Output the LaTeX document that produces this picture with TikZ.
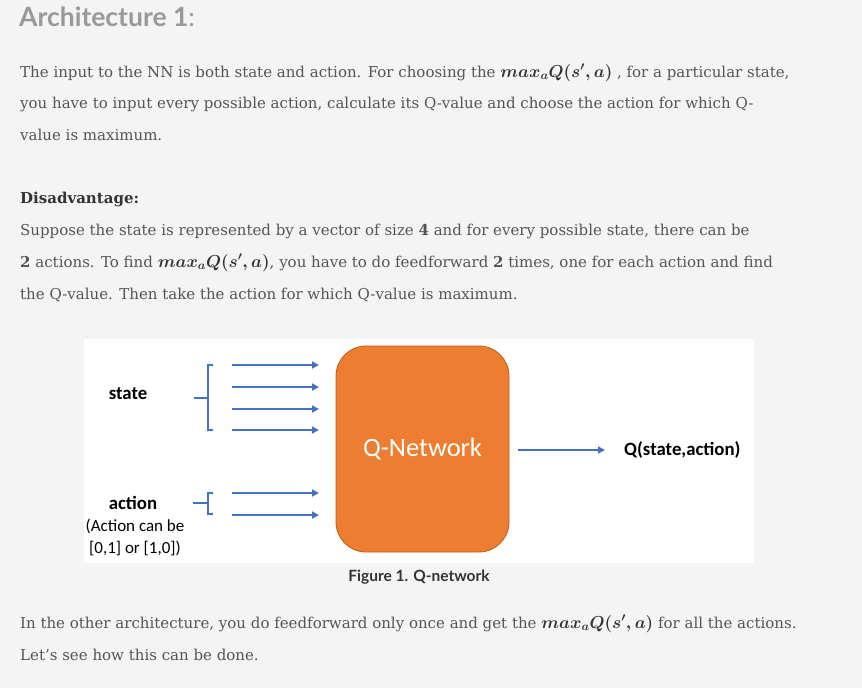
\documentclass[tikz,border=0pt]{standalone}
\usepackage{amsmath,amssymb}
\usepackage[no-math]{fontspec}
\setmainfont{DejaVu Serif}
\newfontfamily\lato{Lato}
\newfontfamily\calib{Carlito}
\usetikzlibrary{arrows.meta}
\definecolor{bgc}{HTML}{F4F4F4}
\definecolor{txt}{HTML}{555555}
\definecolor{ttl}{HTML}{999999}
\definecolor{mth}{HTML}{333333}
\definecolor{qorange}{HTML}{ED7D31}
\definecolor{qedge}{HTML}{C55A11}
\definecolor{qblue}{HTML}{4472C4}
\newcommand{\mq}{{\fontsize{18.4}{18}\selectfont\textcolor{mth}{$\boldsymbol{max_aQ(s',a)}$}}}
\tikzset{
  body/.style={anchor=base west,inner sep=0pt,text=txt,font=\fontsize{15.0}{18}\selectfont},
  lab/.style={inner sep=0pt,text=black,font=\calib\bfseries\fontsize{18.8}{22}\selectfont},
  arr/.style={qblue,line width=2.4pt,-{Triangle[length=7pt,width=7pt]}},
  brk/.style={qblue,line width=1.5pt}
}
\begin{document}
\begin{tikzpicture}[x=1pt,y=-1pt]
\fill[bgc] (0,0) rectangle (862,688);
\useasboundingbox (0,0) rectangle (862,688);
% title
\node[anchor=base west,inner sep=0pt,text=ttl,font=\lato\fontsize{26.5}{32}\selectfont] (title) at (19,27) {\textbf{Architecture 1}:};
% paragraph 1
\node[body] (p1) at (20,77) {The input to the NN is both state and action. For choosing the \mq\ , for a particular state,};
\node[body] (p2) at (20,108) {you have to input every possible action, calculate its Q-value and choose the action for which Q-};
\node[body] (p3) at (20,140) {value is maximum.};
\node[body,text=mth] (dis) at (20,203) {\textbf{Disadvantage:}};
\node[body] (p4) at (20,235) {Suppose the state is represented by a vector of size \textbf{4} and for every possible state, there can be};
\node[body] (p5) at (20,267) {\textbf{2} actions. To find \mq, you have to do feedforward \textbf{2} times, one for each action and find};
\node[body] (p6) at (20,299) {the Q-value. Then take the action for which Q-value is maximum.};
% panel
\fill[white] (84,339) rectangle (754,563);
% Q network box
\node[draw=qedge,fill=qorange,line width=0.8pt,rounded corners=30pt,minimum width=173pt,minimum height=206pt,inner sep=0pt,text=white,font=\calib\fontsize{26.5}{30}\selectfont] (qnet) at (422.5,449) {Q-Network};
% state
\node[lab] (state) at (128,394) {state};
\draw[brk] (213,365) -- (208,365) -- (208,430) -- (213,430);
\draw[brk] (208,398) -- (194,398);
\foreach \i/\y in {1/365,2/387,3/409,4/430}{
  \coordinate (s\i) at (232,\y);
  \coordinate (e\i) at (319,\y);
  \draw[arr] (s\i) -- (e\i);
}
% action
\node[lab] (action) at (133,503) {action};
\node[inner sep=0pt,align=center,font=\calib\fontsize{17}{22}\selectfont,anchor=north] (note) at (135,519) {(Action can be\\{[0,1]} or [1,0])};
\draw[brk] (213,493) -- (208,493) -- (208,514) -- (213,514);
\draw[brk] (208,503) -- (193,503);
\foreach \i/\y in {5/493,6/515}{
  \coordinate (s\i) at (232,\y);
  \coordinate (e\i) at (319,\y);
  \draw[arr] (s\i) -- (e\i);
}
% output
\coordinate (o1) at (518,450);
\coordinate (o2) at (605,450);
\draw[arr] (o1) -- (o2);
\node[lab,anchor=west] (qout) at (624,450) {Q(state,action)};
% caption
\node[anchor=base,inner sep=0pt,text=mth,font=\lato\bfseries\fontsize{15.5}{18}\selectfont] (cap) at (419,581) {Figure 1. Q-network};
% bottom paragraph
\node[body] (p7) at (20,628) {In the other architecture, you do feedforward only once and get the \mq\ for all the actions.};
\node[body] (p8) at (20,660) {Let's see how this can be done.};
\end{tikzpicture}
\end{document}
